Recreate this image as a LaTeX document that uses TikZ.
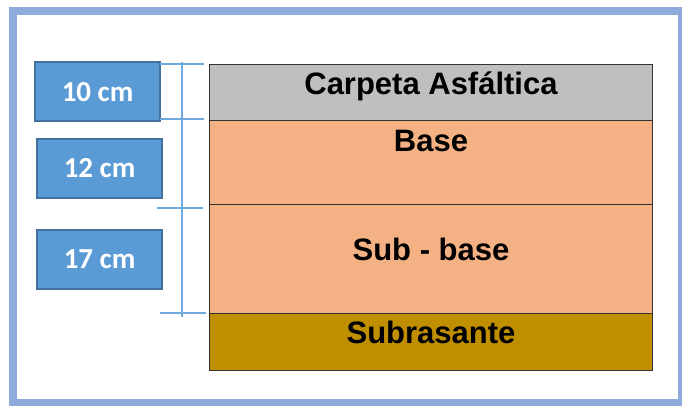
\documentclass[tikz,border=0pt]{standalone}
\usepackage{fontspec}
\setmainfont{Liberation Sans}
\newfontfamily\boxfont{Carlito}
\definecolor{frameblue}{HTML}{8FAADC}
\definecolor{boxblue}{HTML}{5B9BD5}
\definecolor{boxedge}{HTML}{41719C}
\definecolor{dimblue}{HTML}{6FA8DC}
\definecolor{asphalt}{HTML}{BFBFBF}
\definecolor{granular}{HTML}{F4B183}
\definecolor{soil}{HTML}{BF8F00}
\begin{document}
\begin{tikzpicture}[x=1pt,y=-1pt,
  layer/.style={draw=black!80, line width=1.2pt, minimum width=443pt, inner sep=0pt, anchor=north west},
  layertext/.style={anchor=base, inner sep=0pt, font=\bfseries\fontsize{31}{35}\selectfont},
  thickbox/.style={fill=boxblue, draw=boxedge, line width=2.2pt, minimum width=125pt, minimum height=59pt,
    anchor=north west, text=white, font=\boxfont\bfseries\fontsize{29}{33}\selectfont}]
\useasboundingbox (0,0) rectangle (682,405);
\draw[frameblue, line width=8pt] (13,11) rectangle (682,403);
% layers
\node[layer, fill=asphalt, minimum height=56pt] (carpeta) at (209,64) {};
\node[layer, fill=granular, minimum height=84pt] (base) at (209,120) {};
\node[layer, fill=granular, minimum height=109pt] (subbase) at (209,204) {};
\node[layer, fill=soil, minimum height=57pt] (subrasante) at (209,313) {};
\node[layertext] (tcarpeta) at (431,94) {Carpeta Asfáltica};
\node[layertext] (tbase) at (431,151) {Base};
\node[layertext] (tsubbase) at (431,260) {Sub - base};
\node[layertext] (tsubrasante) at (431,343) {Subrasante};
% thickness boxes
\node[thickbox] (e10) at (34,61) {10 cm};
\node[thickbox] (e12) at (36,137.5) {12 cm};
\node[thickbox] (e17) at (36,229) {17 cm};
% dimension line
\draw[dimblue, line width=1.2pt] (182,62) -- (182,317);
\draw[dimblue, line width=1.2pt] (160,64) -- (204,64);
\draw[dimblue, line width=1.2pt] (160,119) -- (204,119);
\draw[dimblue, line width=1.2pt] (157,208) -- (203,208);
\draw[dimblue, line width=1.2pt] (160,313) -- (206,313);
\end{tikzpicture}
\end{document}
